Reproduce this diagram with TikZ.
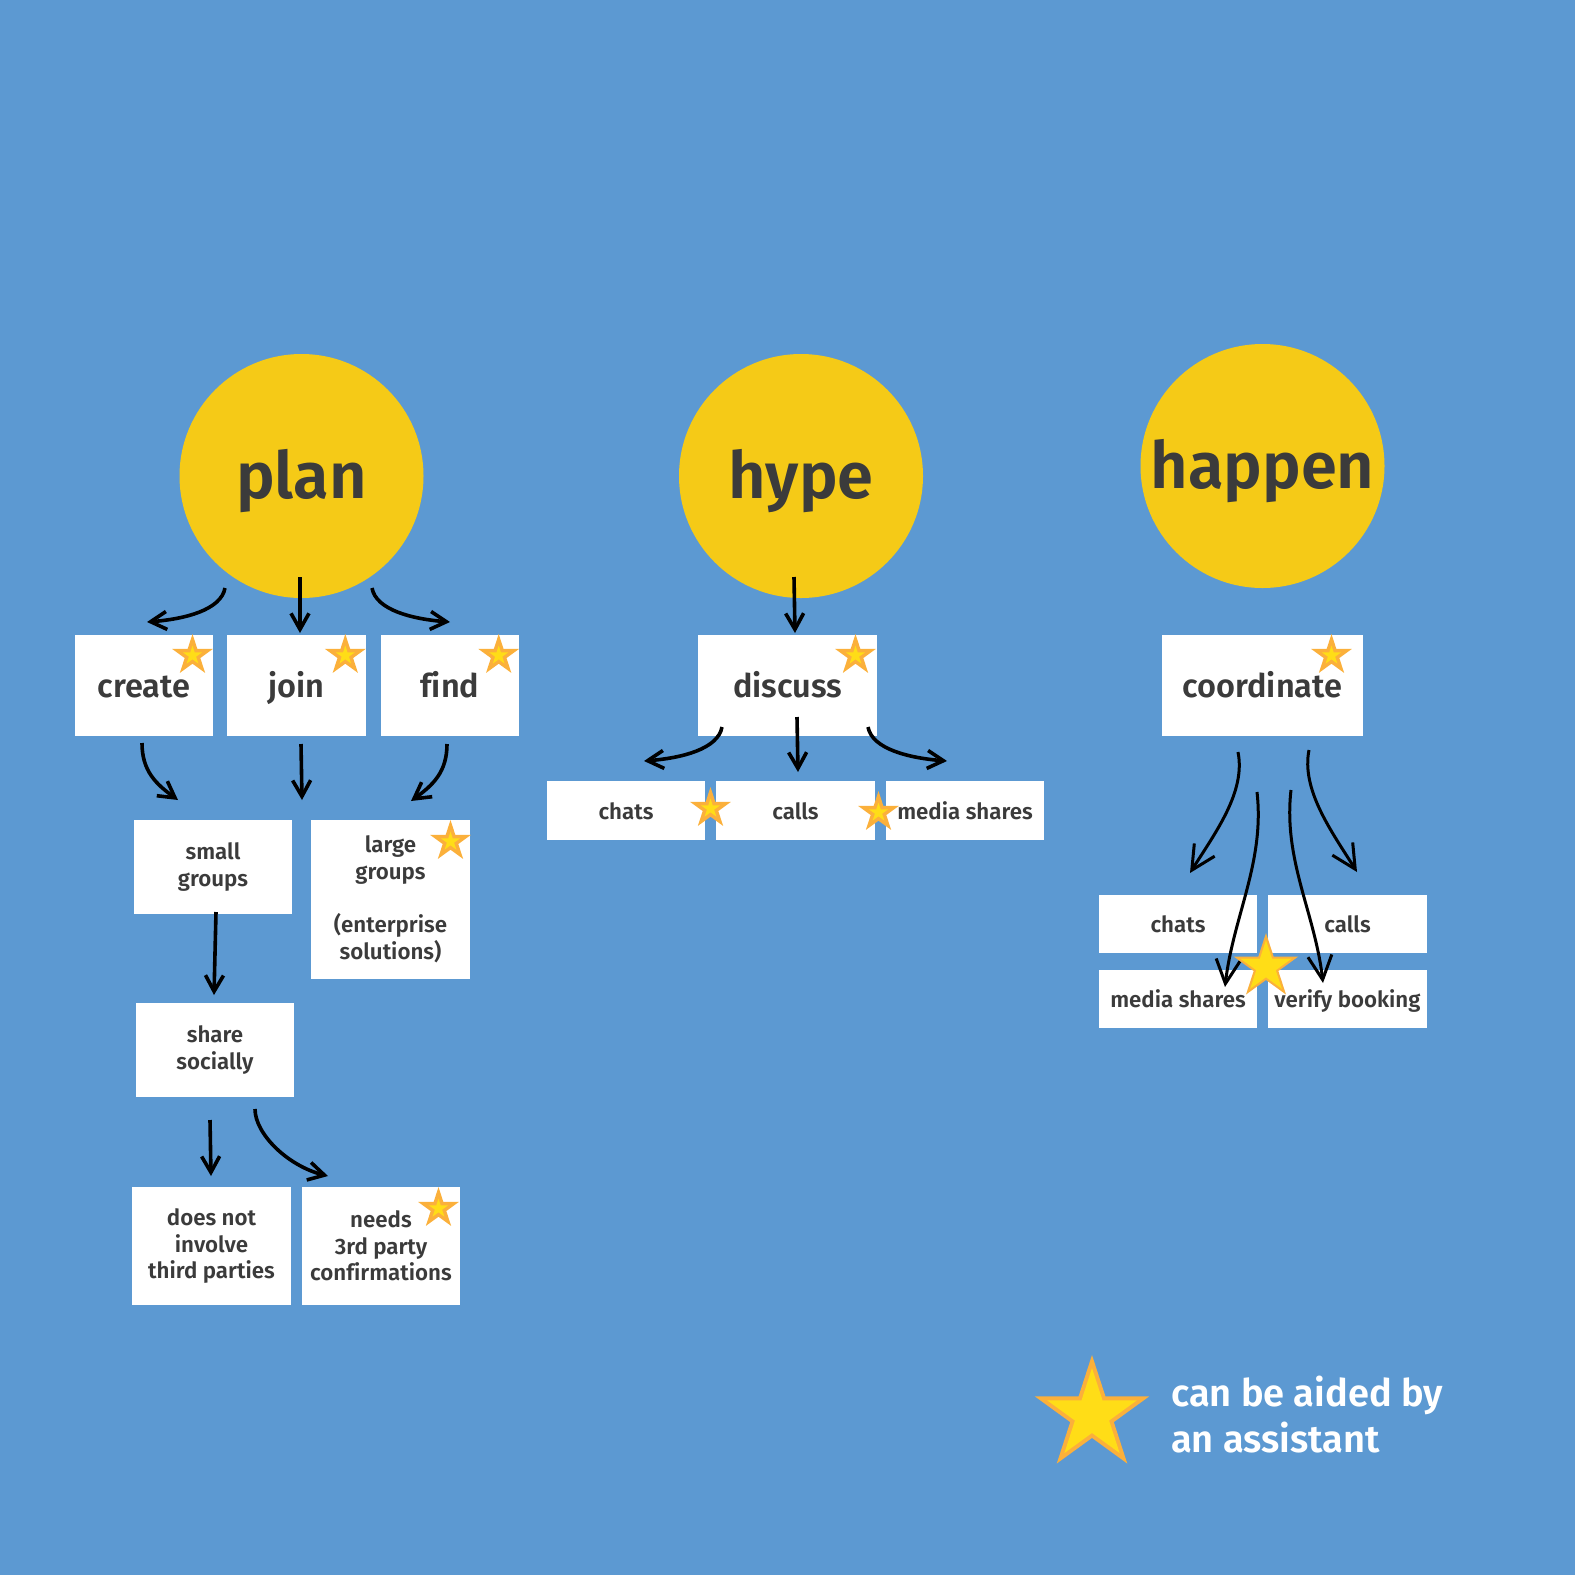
\documentclass[tikz,border=0pt]{standalone}
\usepackage{fontspec}
\setmainfont{Fira Sans}[UprightFont=* SemiBold, Ligatures=NoCommon]
\usetikzlibrary{shapes.geometric,arrows.meta,calc}
\definecolor{bg}{HTML}{5C99D2}
\definecolor{circ}{HTML}{F5CA17}
\definecolor{ink}{HTML}{3B3B3B}
\definecolor{starO}{HTML}{FBB03B}
\definecolor{starY}{HTML}{FFDD17}
\begin{document}
\begin{tikzpicture}[x=1pt,y=-1pt,
  box/.style={fill=white, inner sep=0pt, text=ink},
  bigbox/.style={box, font=\fontsize{32.5}{40}\selectfont, text height=23pt, text depth=0pt, minimum height=101pt},
  smallone/.style={box, font=\fontsize{22.3}{26.7}\selectfont, text height=17pt, text depth=0pt, minimum height=59pt},
  multi/.style={box, align=center, font=\fontsize{22.3}{26.7}\selectfont},
  bigc/.style={circle, fill=circ, inner sep=0pt, minimum size=244pt, text=ink, font=\fontsize{65}{78}\selectfont, text height=44pt, text depth=0pt},
  ostar/.style={star, star points=5, star point ratio=2.618, fill=starO, draw=none, inner sep=0pt, outer sep=0pt, minimum size=#1},
  ystar/.style={star, star points=5, star point ratio=2.618, fill=starY, draw=none, inner sep=0pt, outer sep=0pt, minimum size=#1},
  arr/.style={-{Straight Barb[length=16pt,width=18pt]}, line width=3.6pt, black},
  harr/.style={-{Straight Barb[length=24pt,width=24pt]}, line width=3pt, black}
]
\useasboundingbox (0,0) rectangle (1575,1575);
\fill[bg] (0,0) rectangle (1575,1575);

% circles
\node[bigc] (plan) at (301.5,476) {plan};
\node[bigc] (hype) at (801,476) {hype};
\node[bigc] (happen) at (1262.5,466) {happen};

% plan column
\node[bigbox, minimum width=138pt] (create) at (144,685.5) {create};
\node[bigbox, minimum width=139pt] (join) at (296.5,685.5) {join};
\node[bigbox, minimum width=138pt] (find) at (450,685.5) {find};
\node[multi, minimum width=158pt, minimum height=94pt] (small) at (213,867) {small\\groups};
\node[multi, minimum width=159pt, minimum height=159pt] (large) at (390.5,899.5) {large\\groups\\[26.7pt](enterprise\\solutions)};
\node[multi, minimum width=158pt, minimum height=94pt] (share) at (215,1050) {share\\socially};
\node[multi, minimum width=159pt, minimum height=118pt] (does) at (211.5,1246) {does not\\involve\\third parties};
\node[multi, minimum width=158pt, minimum height=118pt] (needs) at (381,1246) {needs\\3rd party\\confirmations};

% hype column
\node[bigbox, minimum width=179pt] (discuss) at (787.5,685.5) {discuss};
\node[smallone, minimum width=158pt] (hchats) at (626,810.5) {chats};
\node[smallone, minimum width=159pt] (hcalls) at (795.5,810.5) {calls};
\node[smallone, minimum width=158pt] (hmedia) at (965,810.5) {media shares};

% happen column
\node[bigbox, minimum width=201pt] (coord) at (1262.5,685.5) {coordinate};
\node[smallone, minimum width=158pt, minimum height=58pt] (pchats) at (1178,924) {chats};
\node[smallone, minimum width=159pt, minimum height=58pt] (pcalls) at (1347.5,924) {calls};
\node[smallone, minimum width=158pt, minimum height=58pt] (pmedia) at (1178,999) {media shares};
\node[smallone, minimum width=159pt, minimum height=58pt] (pverify) at (1347.5,999) {verify booking};

% arrow end points
\coordinate (a1s) at ($(plan.center)+(-76.5,112)$);
\coordinate (a1e) at ($(create.center)+(3,-63.5)$);
\coordinate (a2s) at ($(plan.center)+(-1.5,101)$);
\coordinate (a2e) at ($(join.center)+(3.5,-52.5)$);
\coordinate (a3s) at ($(plan.center)+(70.5,112)$);
\coordinate (a3e) at ($(find.center)+(0,-63.5)$);
\coordinate (a4s) at ($(create.center)+(-2,57.5)$);
\coordinate (a4e) at ($(small.center)+(-35,-67)$);
\coordinate (a5s) at ($(join.center)+(4.5,58.5)$);
\coordinate (a5e) at ($(join.center)+(5.5,114.5)$);
\coordinate (a6s) at ($(find.center)+(-3,58.5)$);
\coordinate (a6e) at ($(large.center)+(20.5,-98.5)$);
\coordinate (a7s) at ($(small.center)+(3,45)$);
\coordinate (a7e) at ($(share.center)+(-1,-55)$);
\coordinate (a8s) at ($(share.center)+(-5,70)$);
\coordinate (a8e) at ($(does.center)+(-0.5,-70)$);
\coordinate (a9s) at ($(share.center)+(40,59)$);
\coordinate (a9e) at ($(needs.center)+(-53,-70)$);
\coordinate (a10s) at ($(hype.center)+(-7,101)$);
\coordinate (a10e) at ($(discuss.center)+(7.5,-52.5)$);
\coordinate (a11s) at ($(discuss.center)+(-65.5,41.5)$);
\coordinate (a11e) at ($(hchats.center)+(18,-49.5)$);
\coordinate (a12s) at ($(discuss.center)+(9.5,31.5)$);
\coordinate (a12e) at ($(hcalls.center)+(2.5,-38.5)$);
\coordinate (a13s) at ($(discuss.center)+(80.5,41.5)$);
\coordinate (a13e) at ($(hmedia.center)+(-18,-49.5)$);
\coordinate (a14s) at ($(coord.center)+(-24.5,66.5)$);
\coordinate (a14e) at ($(pchats.center)+(12,-51)$);
\coordinate (a15s) at ($(coord.center)+(-5.5,106.5)$);
\coordinate (a15e) at ($(pmedia.center)+(47,-12)$);
\coordinate (a16s) at ($(coord.center)+(28.5,104.5)$);
\coordinate (a16e) at ($(pverify.center)+(-24.5,-16)$);
\coordinate (a17s) at ($(coord.center)+(46.5,64.5)$);
\coordinate (a17e) at ($(pcalls.center)+(9.5,-52)$);

% arrows
\draw[arr] (a1s) .. controls ($(a1s)+(-4,22)$) and ($(a1e)+(38,-3)$) .. (a1e);
\draw[arr] (a2s) -- (a2e);
\draw[arr] (a3s) .. controls ($(a3s)+(4,22)$) and ($(a3e)+(-38,-3)$) .. (a3e);
\draw[arr] (a4s) .. controls ($(a4s)+(0,28)$) and ($(a4e)+(-22,-16)$) .. (a4e);
\draw[arr] (a5s) -- (a5e);
\draw[arr] (a6s) .. controls ($(a6s)+(0,28)$) and ($(a6e)+(22,-16)$) .. (a6e);
\draw[arr] (a7s) -- (a7e);
\draw[arr] (a8s) -- (a8e);
\draw[arr] (a9s) .. controls ($(a9s)+(0,25)$) and ($(a9e)+(-40,-10)$) .. (a9e);
\draw[arr] (a10s) -- (a10e);
\draw[arr] (a11s) .. controls ($(a11s)+(-4,22)$) and ($(a11e)+(38,-3)$) .. (a11e);
\draw[arr] (a12s) -- (a12e);
\draw[arr] (a13s) .. controls ($(a13s)+(4,22)$) and ($(a13e)+(-38,-3)$) .. (a13e);
\draw[harr] (a14s) .. controls ($(a14s)+(8,40)$) and ($(a14e)+(25,-40)$) .. (a14e);
\draw[harr] (a15s) .. controls ($(a15s)+(8,70)$) and ($(a15e)+(8,-70)$) .. (a15e);
\draw[harr] (a16s) .. controls ($(a16s)+(-8,70)$) and ($(a16e)+(-8,-70)$) .. (a16e);
\draw[harr] (a17s) .. controls ($(a17s)+(-8,40)$) and ($(a17e)+(-25,-40)$) .. (a17e);

% small stars
\node[ostar=43pt] (s1) at (192.5,655.5) {};   \node[ystar=20pt] (s1y) at (s1) {};
\node[ostar=43pt] (s2) at (345.3,655.5) {};   \node[ystar=20pt] (s2y) at (s2) {};
\node[ostar=43pt] (s3) at (498.7,655.5) {};   \node[ystar=20pt] (s3y) at (s3) {};
\node[ostar=43pt] (s4) at (855.5,655.5) {};   \node[ystar=20pt] (s4y) at (s4) {};
\node[ostar=43pt] (s5) at (1331.5,655.5) {};  \node[ystar=20pt] (s5y) at (s5) {};
\node[ostar=43pt] (s6) at (710.5,808.5) {};   \node[ystar=20pt] (s6y) at (s6) {};
\node[ostar=43pt] (s7) at (878.5,812.5) {};   \node[ystar=20pt] (s7y) at (s7) {};
\node[ostar=43pt] (s8) at (450.5,841.5) {};   \node[ystar=20pt] (s8y) at (s8) {};
\node[ostar=43pt] (s9) at (438.5,1208.5) {};  \node[ystar=20pt] (s9y) at (s9) {};

% big stars
\node[ostar=68pt] (s10) at (1266,967) {};  \node[ystar=54pt] (s10y) at (s10) {};
\node[ostar=120pt] (leg) at (1092,1415) {}; \node[ystar=94pt] (legy) at (leg) {};

% legend text
\node[anchor=north west, inner sep=0pt, text=white, align=left, font=\fontsize{38}{46}\selectfont] (legtext) at (1171,1376) {can be aided by\\an assistant};
\end{tikzpicture}
\end{document}
